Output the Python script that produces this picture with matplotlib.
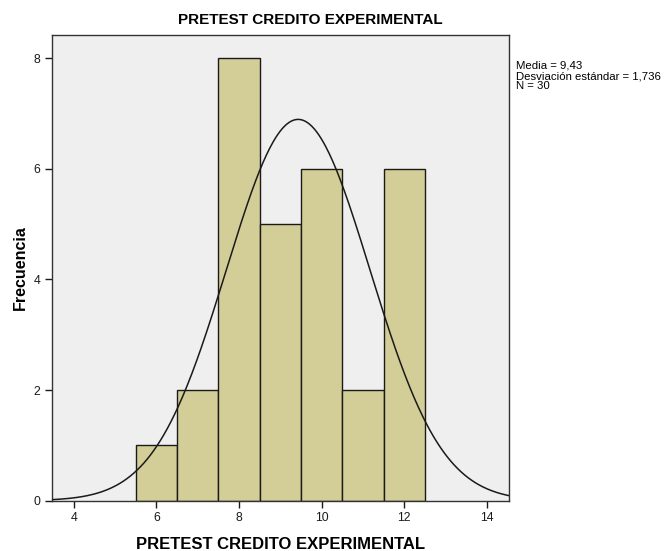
import numpy as np
import matplotlib
matplotlib.use("Agg")
import matplotlib.pyplot as plt

# histogram data
bin_centers = [6, 7, 8, 9, 10, 11, 12]
counts      = [1, 2, 8, 5, 6, 2, 6]
mean, sd, n = 9.43, 1.736, 30
x_ticks = [4, 6, 8, 10, 12, 14]
y_ticks = [0, 2, 4, 6, 8]

plt.rcParams['font.family'] = ['Liberation Sans', 'DejaVu Sans']

fig = plt.figure(figsize=(6.7, 5.51), dpi=100)
ax = fig.add_axes([0.0776, 0.0913, 0.6824, 0.8452])
ax.set_facecolor('#EFEFEF')

ax.bar(bin_centers, counts, width=1.0, color='#D3CE97', edgecolor='#1a1a1a', linewidth=1.0, zorder=2)

# normal curve scaled to the counts (bin width 1)
xs = np.linspace(3.47, 14.54, 400)
ys = n * 1.0 / (sd * np.sqrt(2 * np.pi)) * np.exp(-0.5 * ((xs - mean) / sd) ** 2)
ax.plot(xs, ys, color='#1a1a1a', linewidth=1.1, zorder=3)

ax.set_xlim(3.47, 14.54)
ax.set_ylim(0, 8.42)
ax.set_xticks(x_ticks)
ax.set_yticks(y_ticks)
ax.tick_params(direction='out', length=5, width=1, labelsize=8.8, colors='#1a1a1a')
for s in ax.spines.values():
    s.set_linewidth(1.0)
    s.set_color('#333333')

ax.set_xlabel('PRETEST CREDITO EXPERIMENTAL', fontsize=12, fontweight='bold', labelpad=9)
ax.set_ylabel('Frecuencia', fontsize=11.5, fontweight='bold', labelpad=4)
fig.text(310 / 670, 1 - 20 / 551, 'PRETEST CREDITO EXPERIMENTAL', ha='center', va='center',
         fontsize=11, fontweight='bold')

fig.text(516 / 670, 1 - 61 / 551,
         'Media = 9,43\nDesviación estándar = 1,736\nN = 30',
         ha='left', va='top', fontsize=8.2, linespacing=1.02)

fig.savefig('out.png', dpi=100, facecolor='white')
